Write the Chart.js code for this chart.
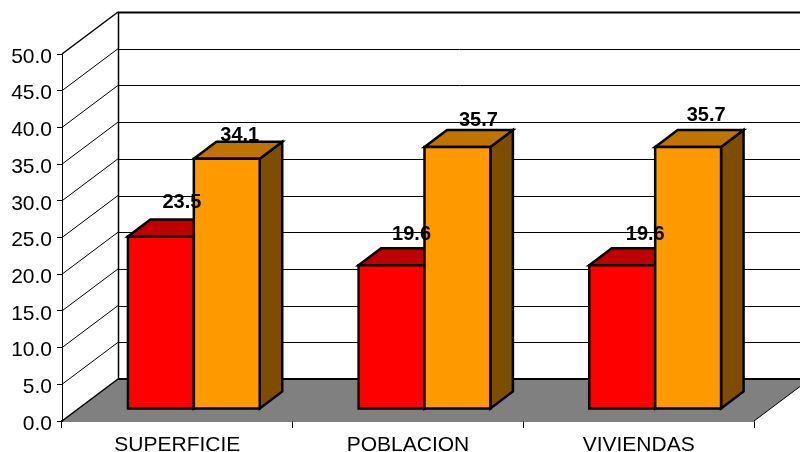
<!DOCTYPE html>
<html><head><meta charset="utf-8">
<style>html,body{margin:0;padding:0;background:#fff}#w{width:800px;height:452px}</style>
<script src="https://cdn.jsdelivr.net/npm/chart.js@4/dist/chart.umd.min.js"></script>
</head><body><div id="w"><canvas id="c" width="800" height="452"></canvas></div>
<script>
const categories = ['SUPERFICIE', 'POBLACION', 'VIVIENDAS'];
const seriesRed = [23.5, 19.6, 19.6];
const seriesOrange = [34.1, 35.7, 35.7];
const yTicksMax = 50;
const yStep = 5;

const WALL = {dx: 56, dy: -42};      // depth of the chart box
const BAR_SHIFT = {dx: 16.5, dy: -12}; // bars stand inside the floor
const BAR_DEPTH = {dx: 22.5, dy: -17};
const BAR_LINE = 2.5;
const FACES = [
  {front: '#FF0000', top: '#BF0000', side: '#7F0000'},
  {front: '#FF9900', top: '#BF7300', side: '#7F4D00'}
];
// offset of each value label from the front-top-centre of its bar
const LABEL_OFFSETS = [
  [[21, -34.5], [20, -30.5], [23, -30.5]],
  [[13, -23.5], [21, -26.5], [18, -31.5]]
];

function poly(ctx, pts, fill, lw) {
  ctx.beginPath();
  pts.forEach((p, i) => i ? ctx.lineTo(p[0], p[1]) : ctx.moveTo(p[0], p[1]));
  ctx.closePath();
  if (fill) { ctx.fillStyle = fill; ctx.fill(); }
  if (lw) { ctx.lineWidth = lw; ctx.strokeStyle = '#000'; ctx.lineJoin = 'miter'; ctx.stroke(); }
}
function line(ctx, x1, y1, x2, y2, lw) {
  ctx.beginPath(); ctx.moveTo(x1, y1); ctx.lineTo(x2, y2);
  ctx.lineWidth = lw; ctx.strokeStyle = '#000'; ctx.stroke();
}

const box3d = {
  id: 'box3d',
  beforeDatasetsDraw(chart) {
    const ctx = chart.ctx, xs = chart.scales.x, ys = chart.scales.y;
    const l = xs.left, r = xs.right, b = ys.getPixelForValue(0);
    ctx.save();
    // gridlines on the side and back walls
    ys.ticks.forEach(t => {
      const y = ys.getPixelForValue(t.value);
      if (t.value > 0) {
        line(ctx, l, y, l + WALL.dx, y + WALL.dy, t.value === yTicksMax ? 1.5 : 1);
        line(ctx, l + WALL.dx, Math.round(y + WALL.dy) + .5, r + WALL.dx, Math.round(y + WALL.dy) + .5, t.value === yTicksMax ? 2 : 1);
      }
    });
    line(ctx, l + WALL.dx + .5, ys.getPixelForValue(yTicksMax) + WALL.dy, l + WALL.dx + .5, b + WALL.dy, 1.5);
    // floor
    poly(ctx, [[l, b], [r, b], [r + WALL.dx, b + WALL.dy], [l + WALL.dx, b + WALL.dy]], '#808080', 0);
    line(ctx, l + WALL.dx, b + WALL.dy, r + WALL.dx, b + WALL.dy, 2);
    line(ctx, l, b, l + WALL.dx, b + WALL.dy, 1.5);
    line(ctx, r, b, r + WALL.dx, b + WALL.dy, 1);
    ctx.restore();
  },
  beforeDatasetDraw() { return false; },
  afterDatasetsDraw(chart) {
    const ctx = chart.ctx;
    const metas = [chart.getDatasetMeta(0), chart.getDatasetMeta(1)];
    metas.forEach((meta, s) => {
      meta.data.forEach(el => {
        const p = el.getProps(['x', 'y', 'base', 'width'], true);
        const x0 = p.x - p.width / 2 + BAR_SHIFT.dx, x1 = p.x + p.width / 2 + BAR_SHIFT.dx;
        const y0 = p.y + BAR_SHIFT.dy, y1 = p.base + BAR_SHIFT.dy;
        const dx = BAR_DEPTH.dx, dy = BAR_DEPTH.dy;
        poly(ctx, [[x1, y0], [x1 + dx, y0 + dy], [x1 + dx, y1 + dy], [x1, y1]], FACES[s].side, BAR_LINE);
        poly(ctx, [[x0, y0], [x0 + dx, y0 + dy], [x1 + dx, y0 + dy], [x1, y0]], FACES[s].top, BAR_LINE);
        ctx.save();
        ctx.translate(BAR_SHIFT.dx, BAR_SHIFT.dy);
        el.draw(ctx);
        ctx.restore();
        poly(ctx, [[x0, y0], [x1, y0], [x1, y1], [x0, y1]], null, BAR_LINE);
      });
    });
    ctx.save();
    ctx.font = 'bold 20px "Liberation Sans", Arial, sans-serif';
    ctx.fillStyle = '#000';
    ctx.textAlign = 'center';
    ctx.textBaseline = 'middle';
    const values = [seriesRed, seriesOrange];
    metas.forEach((meta, s) => {
      meta.data.forEach((el, i) => {
        const p = el.getProps(['x', 'y'], true);
        const o = LABEL_OFFSETS[s][i];
        ctx.fillText(values[s][i].toFixed(1), p.x + BAR_SHIFT.dx + o[0], p.y + BAR_SHIFT.dy + o[1]);
      });
    });
    ctx.restore();
  }
};

new Chart(document.getElementById('c'), {
  type: 'bar',
  data: {
    labels: categories,
    datasets: [
      {label: 'A', data: seriesRed, backgroundColor: FACES[0].front, borderWidth: 0},
      {label: 'B', data: seriesOrange, backgroundColor: FACES[1].front, borderWidth: 0}
    ]
  },
  plugins: [box3d],
  options: {
    responsive: false,
    animation: false,
    events: [],
    layout: {padding: {top: 54, right: 46, left: 0, bottom: 0}},
    plugins: {legend: {display: false}, tooltip: {enabled: false}, title: {display: false}},
    datasets: {bar: {barPercentage: 1, categoryPercentage: 0.5714}},
    scales: {
      x: {
        afterFit(s) { s.height = 31; },
        grid: {drawOnChartArea: false, color: '#000', tickColor: '#000', tickLength: 7, lineWidth: 1},
        border: {color: '#000', width: 1.5},
        ticks: {color: '#000', padding: 5, maxRotation: 0, font: {family: '"Liberation Sans", Arial, sans-serif', size: 21}}
      },
      y: {
        min: 0, max: yTicksMax,
        afterFit(s) { s.width = 62; },
        afterUpdate(s) {
          // nudge tick text down so the digits centre on their tick marks
          const orig = s.getLabelItems;
          s.getLabelItems = function (area) {
            return orig.call(this, area).map(it => ({
              ...it,
              options: {...it.options, translation: [it.options.translation[0], it.options.translation[1] + 1.5]}
            }));
          };
        },
        grid: {drawOnChartArea: false, color: '#000', tickColor: '#000', tickLength: 5, lineWidth: 1},
        border: {color: '#000', width: 1},
        ticks: {
          stepSize: yStep, color: '#000', padding: 5,
          callback: v => Number(v).toFixed(1),
          font: {family: '"Liberation Sans", Arial, sans-serif', size: 21}
        }
      }
    }
  }
});
</script></body></html>
